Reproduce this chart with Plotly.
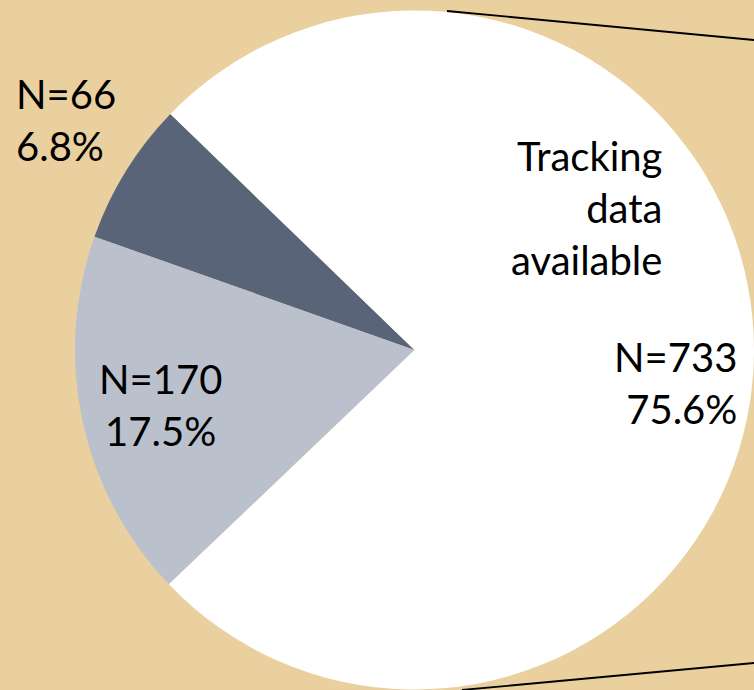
import plotly.graph_objects as go

categories = ["Group A", "Group B", "Tracking data available"]
counts = [66, 170, 733]
percent_labels = ["6.8%", "17.5%", "75.6%"]
colors = ["#5A6479", "#BAC0CC", "#FFFFFF"]
bg = "#E9D09E"
font_family = "Lato, 'Open Sans', sans-serif"

fig = go.Figure()
fig.add_trace(go.Pie(
    labels=categories,
    values=counts,
    sort=False,
    direction="counterclockwise",
    rotation=-70.5,
    marker=dict(colors=colors, line=dict(width=0)),
    textinfo="none",
    hoverinfo="label+value+percent",
    showlegend=False,
    domain=dict(x=[75/754, 1], y=[0, 1 - 10/690]),
))

# Annotations
fig.add_annotation(x=66/754, y=1 - 120/690, xref="paper", yref="paper",
                   text=f"N={counts[0]}<br>{percent_labels[0]}", showarrow=False,
                   xanchor="center", yanchor="middle", align="left",
                   font=dict(family=font_family, size=40, color="black"))
fig.add_annotation(x=160/754, y=1 - 405/690, xref="paper", yref="paper",
                   text=f"N={counts[1]}<br>{percent_labels[1]}", showarrow=False,
                   xanchor="center", yanchor="middle", align="center",
                   font=dict(family=font_family, size=40, color="black"))
fig.add_annotation(x=664/754, y=1 - 208/690, xref="paper", yref="paper",
                   text="Tracking<br>data<br>available", showarrow=False,
                   xanchor="right", yanchor="middle", align="right",
                   font=dict(family=font_family, size=40, color="black"))
fig.add_annotation(x=739/754, y=1 - 383/690, xref="paper", yref="paper",
                   text=f"N={counts[2]}<br>{percent_labels[2]}", showarrow=False,
                   xanchor="right", yanchor="middle", align="right",
                   font=dict(family=font_family, size=40, color="black"))

# Connector lines (pie-of-pie style)
fig.add_shape(type="line", xref="paper", yref="paper",
              x0=447/754, y0=1 - 11/690, x1=1, y1=1 - 40/690,
              line=dict(color="black", width=1.8))
fig.add_shape(type="line", xref="paper", yref="paper",
              x0=462/754, y0=1 - 690/690, x1=1, y1=1 - 663/690,
              line=dict(color="black", width=1.8))

fig.update_layout(
    width=754, height=690,
    margin=dict(l=0, r=0, t=0, b=0),
    paper_bgcolor=bg, plot_bgcolor=bg,
)

fig.write_html("out.html",
               config={"displayModeBar": False},
               post_script="document.body.style.margin='0';document.body.style.background='" + bg + "';")
